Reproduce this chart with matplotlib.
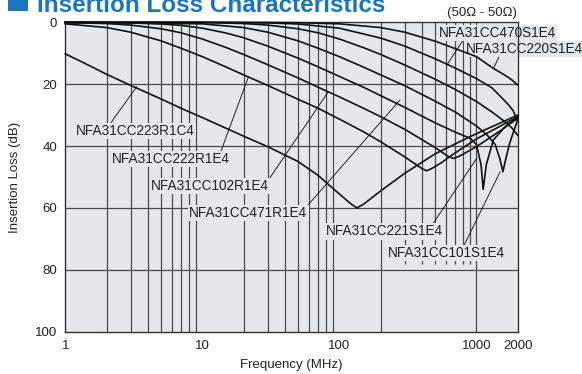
import matplotlib
matplotlib.use('Agg')
import matplotlib.pyplot as plt
from matplotlib.patches import Rectangle

plt.rcParams['font.family'] = ['Liberation Sans', 'DejaVu Sans']

# insertion loss curves: frequency (MHz) / loss (dB)
f_223 = [1, 1.5, 2, 3, 5, 7, 10, 15, 20, 30, 50, 70, 100, 120, 134, 150, 200, 300, 500, 700, 1000, 1500, 2000]
il_223 = [10.2, 14, 16.8, 20.4, 24.8, 27.8, 30.8, 34.3, 36.8, 40.2, 45, 49.5, 55.5, 58.5, 60, 58.8, 54.5, 48.8, 42.5, 39.3, 36, 32.5, 30]

f_222 = [1, 2, 3, 5, 7, 10, 15, 20, 30, 50, 70, 100, 150, 200, 300, 400, 433, 470, 550, 700, 1000, 1500, 2000]
il_222 = [0.5, 1.7, 3.2, 6.0, 8.4, 11.1, 14.5, 17, 20.4, 24.9, 27.8, 31.3, 35.4, 38.6, 43.5, 47.3, 48, 47.3, 45.5, 42.2, 37.7, 33.5, 30.5]

f_102 = [1, 2, 3, 5, 7, 10, 15, 20, 30, 50, 70, 100, 150, 200, 300, 500, 620, 680, 750, 1000, 1500, 2000]
il_102 = [0.1, 0.4, 0.9, 2.1, 3.4, 5.4, 8.2, 10.4, 13.7, 18, 21, 24.1, 27.8, 30.5, 34.6, 40.5, 43.3, 44, 43.3, 40.2, 35, 31]

f_471 = [1, 3, 5, 7, 10, 15, 20, 30, 50, 70, 100, 150, 200, 300, 500, 700, 900, 1000, 1080, 1120, 1180, 1330, 1600, 2000]
il_471 = [0.02, 0.2, 0.55, 1.0, 1.9, 3.5, 5.0, 7.7, 11.6, 14.4, 17.5, 21, 23.7, 27.5, 32.5, 35.5, 37.5, 39.5, 46, 54, 46, 38, 34, 30.5]

f_221 = [1, 10, 20, 30, 50, 70, 100, 150, 200, 300, 500, 700, 1000, 1200, 1370, 1480, 1560, 1640, 1750, 2000]
il_221 = [0, 0.5, 1.7, 3.2, 6.0, 8.4, 11.1, 14.5, 17, 20.5, 25.5, 29, 33.5, 36.5, 39.5, 44, 48.3, 44, 39, 31.5]

f_101 = [1, 10, 20, 30, 50, 70, 100, 150, 200, 300, 500, 700, 1000, 1300, 1600, 1800, 2000]
il_101 = [0, 0.05, 0.4, 0.9, 2.1, 3.4, 5.4, 8.2, 10.4, 13.8, 18.4, 21.7, 25.6, 29, 32, 34, 36.5]

f_470 = [1, 10, 30, 50, 100, 200, 300, 500, 700, 1000, 1300, 1500, 1700, 1850, 2000]
il_470 = [0, 0.05, 0.2, 0.55, 1.9, 5.1, 7.7, 11.8, 14.8, 18.2, 21.2, 24, 26.5, 28.5, 32]

f_220 = [1, 10, 30, 50, 100, 200, 300, 500, 700, 1000, 1330, 1600, 1800, 2000]
il_220 = [0, 0, 0.05, 0.13, 0.5, 1.7, 3.2, 6.1, 8.5, 11.1, 14.9, 17, 18.5, 20.3]

curves = [(f_223, il_223), (f_222, il_222), (f_102, il_102), (f_471, il_471),
          (f_221, il_221), (f_101, il_101), (f_470, il_470), (f_220, il_220)]

part_names = ['NFA31CC223R1C4', 'NFA31CC222R1E4', 'NFA31CC102R1E4', 'NFA31CC471R1E4',
              'NFA31CC221S1E4', 'NFA31CC101S1E4', 'NFA31CC470S1E4', 'NFA31CC220S1E4']

x_ticks = [1, 10, 100, 1000, 2000]
y_ticks = [0, 20, 40, 60, 80, 100]

# label placement (data coords): label centre, leader tip, leader start on box
label_pos = [(3.23, 35.1), (5.91, 44.2), (11.4, 52.9), (21.6, 61.6),
             (214, 67.5), (601, 74.6), (1416, 3.5), (2229, 8.6)]
leader_tip = [(3.32, 20.8), (21.7, 17.6), (83.1, 22.4), (277, 25.1),
              (1007, 43.9), (1489, 48.3), (608, 13.8), (1331, 14.9)]
leader_rel = [(0.29, 1), (0.92, 1), (1.0, 1), (1.0, 1),
              (0.91, 1), (0.65, 1), (0.21, 0), (0.29, 0)]

bg = '#e6e7e8'
gridc = '#4a4a4a'
blue = '#1c75b8'
txt = '#222222'

fig = plt.figure(figsize=(5.82, 3.74), dpi=100)
ax = fig.add_axes([0.1122, 0.1131, 0.7773, 0.8273])
ax.set_facecolor(bg)
ax.set_xscale('log')
ax.set_xlim(1, 2000)
ax.set_ylim(100, 0)

# grid as drawn on the original sheet
full_lines = [2, 3, 4, 5, 6, 7, 8, 9, 20, 30, 40, 50, 60, 70, 80, 90, 200, 1000]
short_lines = [300, 400, 500, 600, 700, 800, 900]
ax.vlines(full_lines, 0, 100, color=gridc, lw=0.9, zorder=1)
ax.vlines(short_lines, 0, 78, color=gridc, lw=0.9, zorder=1)
ax.hlines([20, 40, 60, 80], 1, 2000, color=gridc, lw=0.9, zorder=1)

for f, il in curves:
    ax.plot(f, il, color='#111111', lw=1.2, zorder=3, clip_on=False)

for name, pos, tip, rp in zip(part_names, label_pos, leader_tip, leader_rel):
    ax.annotate(name, xy=tip, xytext=pos, textcoords='data', ha='center', va='center',
                fontsize=9.8, color=txt, zorder=2.5, annotation_clip=False,
                bbox=dict(boxstyle='square,pad=0.1', fc=bg, ec='none'),
                arrowprops=dict(arrowstyle='-', lw=0.7, color=txt, relpos=rp,
                                shrinkA=0, shrinkB=0))

for s in ax.spines.values():
    s.set_color('#333333')
    s.set_linewidth(1.0)

ax.set_xticks(x_ticks)
ax.set_xticklabels([str(v) for v in x_ticks])
ax.minorticks_off()
ax.set_yticks(y_ticks)
ax.set_yticklabels([str(v) for v in y_ticks])
ax.tick_params(length=0, pad=6, labelsize=9.5, colors=txt)
ax.set_xlabel('Frequency (MHz)', fontsize=9.5, color=txt, labelpad=5)
ax.set_ylabel('Insertion Loss (dB)', fontsize=9.5, color=txt, labelpad=10)

fig.text(482 / 582, 1 - 12.7 / 374, '(50Ω - 50Ω)', ha='center', va='center',
         fontsize=9.5, color=txt)

# section heading, cut off at the top edge as in the source page
fig.patches.append(Rectangle((8 / 582, 1 - 11 / 374), 20 / 582, 14 / 374,
                             transform=fig.transFigure, fc=blue, ec='none'))
fig.text(37 / 582, 1 - 12 / 374, 'Insertion Loss Characteristics', ha='left',
         va='baseline', fontsize=17.5, fontweight='bold', color=blue)

fig.savefig('out.png', dpi=100)
